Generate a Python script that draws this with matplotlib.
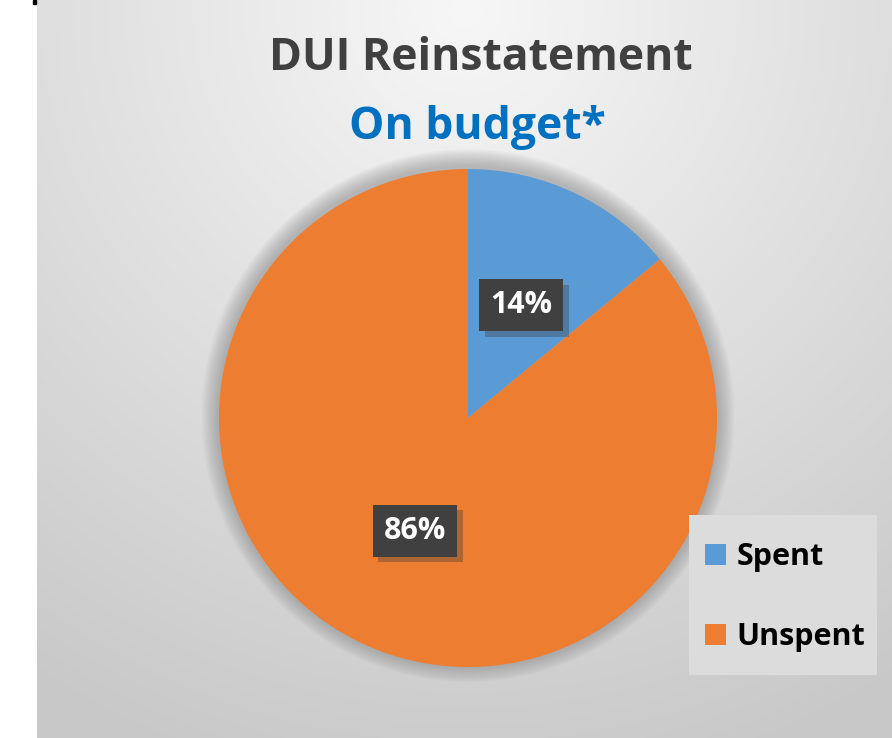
import numpy as np
import matplotlib as mpl
import matplotlib.pyplot as plt
from matplotlib.patches import Circle, Rectangle
import matplotlib.patheffects as pe

# данные диаграммы
categories = ['Spent', 'Unspent']
shares = [14, 86]
colors = ['#5B9BD5', '#ED7D31']
title_main = 'DUI Reinstatement'
title_sub = 'On budget*'

W, H = 892, 738
mpl.rcParams['font.family'] = ['Open Sans', 'DejaVu Sans']
mpl.rcParams['font.weight'] = 'bold'

fig = plt.figure(figsize=(W / 100, H / 100), dpi=100)
fig.patch.set_facecolor('white')

# серая подложка с радиальным градиентом
panel_x0 = 37
bg = fig.add_axes([panel_x0 / W, 0, 1 - panel_x0 / W, 1])
yy, xx = np.mgrid[0:H, panel_x0:W]
dist = np.hypot(xx - 465, yy - 10) / 800
shade = 247 - 47 * np.clip(dist, 0, 1)
bg.imshow(np.dstack([shade] * 3).astype(np.uint8), aspect='auto',
          extent=[0, 1, 0, 1], interpolation='bilinear')
bg.set_axis_off()

# маленькая черная метка в левом верхнем углу
fig.patches.append(Rectangle((33 / W, 1 - 4 / H), 3 / W, 4 / H,
                             transform=fig.transFigure, color='black'))

# круговая диаграмма
cx, cy, r_px = 468, 418, 249
ext = 1.12
half = r_px * ext
ax = fig.add_axes([(cx - half) / W, (H - cy - half) / H, 2 * half / W, 2 * half / H])

# мягкая тень вокруг круга
for k in range(14):
    ax.add_patch(Circle((0, 0.01), 1.0 + 0.005 * (k + 1), color='#808080',
                        alpha=0.045, lw=0, zorder=0))

wedges, _, autotexts = ax.pie(shares, colors=colors, startangle=90,
                              counterclock=False, radius=1.0,
                              autopct='%1.0f%%', pctdistance=0.5,
                              wedgeprops=dict(linewidth=0))
# pie сбрасывает пределы осей, поэтому задаем их после
ax.set_xlim(-ext, ext)
ax.set_ylim(-ext, ext)
ax.set_axis_off()

for t in autotexts:
    t.set_color('white')
    t.set_fontsize(22)
    t.set_fontweight('bold')
    t.set_bbox(dict(boxstyle='square,pad=0.36', facecolor='#404040',
                    edgecolor='none'))
    t.get_bbox_patch().set_path_effects(
        [pe.SimplePatchShadow(offset=(4, -4), shadow_rgbFace='#3a3a3a', alpha=0.35),
         pe.Normal()])

# заголовки
fig.text(481 / W, 1 - 59 / H, title_main, ha='center', va='center',
         fontsize=32, fontweight='bold', color='#404040')
fig.text(477 / W, 1 - 127 / H, title_sub, ha='center', va='center',
         fontsize=32, fontweight='bold', color='#0070C0')

# подложка легенды
fig.patches.append(Rectangle((689 / W, 1 - 675 / H), 188 / W, 160 / H,
                             transform=fig.transFigure, facecolor='#dcdcdc',
                             edgecolor='none', zorder=2))

# легенда
leg = fig.legend(wedges, categories, loc='upper left',
                 bbox_to_anchor=(705 / W, 1 - 542 / H), borderaxespad=0,
                 prop=dict(size=22, weight='bold'), frameon=False,
                 handlelength=0.68, handleheight=0.68, borderpad=0,
                 handletextpad=0.36, labelspacing=1.65)
leg.set_zorder(3)

plt.savefig('out.png', dpi=100)
